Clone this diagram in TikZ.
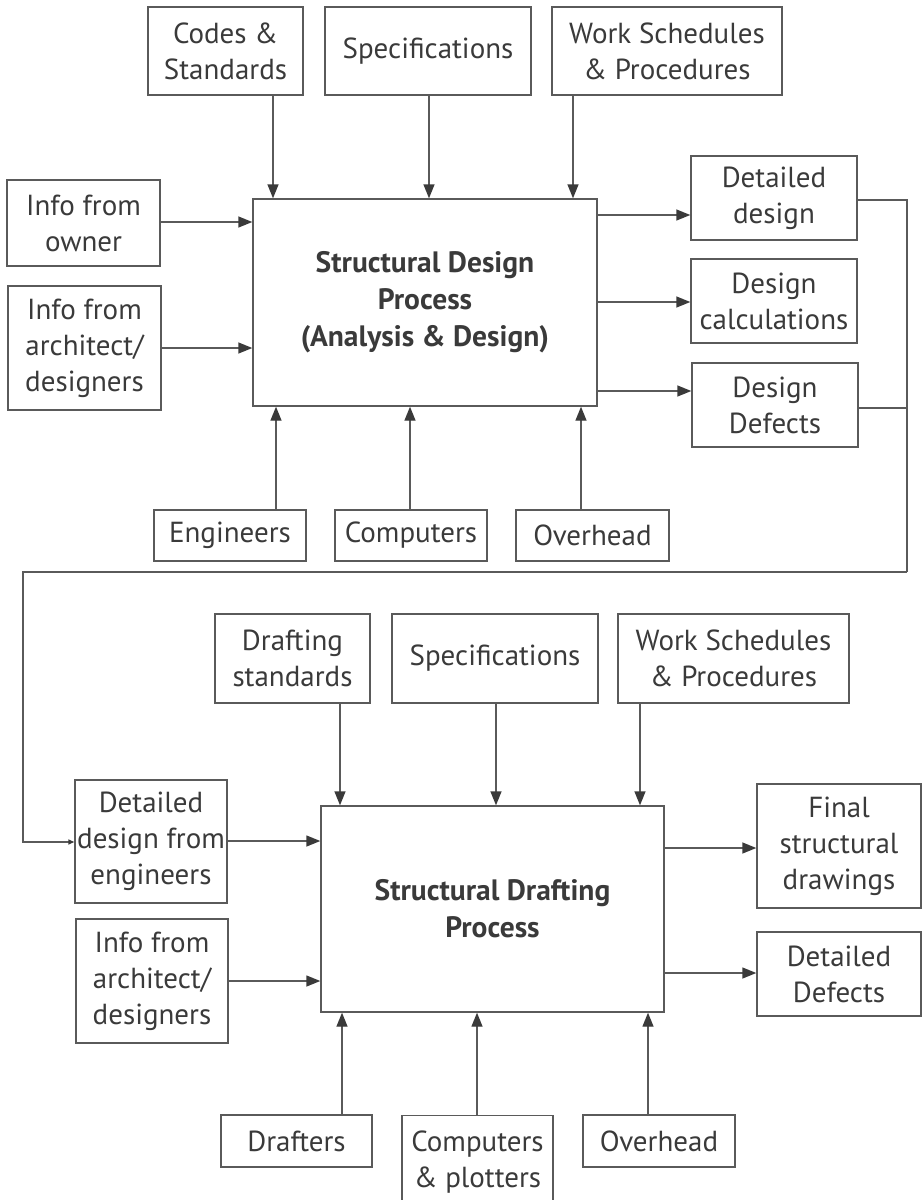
\documentclass[tikz,border=0pt]{standalone}
\usepackage{fontspec}
\setmainfont{PT Sans}
\usetikzlibrary{arrows.meta}
\definecolor{lc}{HTML}{5A5A5A}
\definecolor{tc}{HTML}{3A3A3A}
\newcommand\bx[6]{%
  \node[box, minimum width={#4-#2}, minimum height={#5-#3}] (#1)
    at ({(#2+#4)/2},{(#3+#5)/2}) {#6};}
\begin{document}
\begin{tikzpicture}[x=1pt, y=-1pt,
  box/.style={draw=lc, line width=1.4pt, text=tc, align=center, inner sep=0pt,
    font=\fontsize{29}{36}\selectfont},
  title/.style={box, font=\fontsize{29.5}{37}\selectfont\bfseries},
  conn/.style={draw=lc, line width=1.4pt},
  arr/.style={conn, -{Triangle[length=14pt,width=11pt,color=tc]}},
  arrsmall/.style={conn, -{Triangle[length=6pt,width=5pt,color=tc]}}]
\useasboundingbox (0,0) rectangle (922,1200);

% ---------- design stage ----------
\bx{codes}{148}{7}{303}{95}{Codes \&\\Standards}
\bx{specA}{325}{7}{531}{95}{Specifications}
\bx{workA}{552}{7}{782}{95}{Work Schedules\\\& Procedures}
\bx{owner}{7}{180}{160}{266}{Info from\\owner}
\bx{archA}{8}{286}{161}{410}{Info from\\architect/\\designers}
\node[title, minimum width=344, minimum height=207] (sdp) at (425,302.5)
  {Structural Design\\Process\\(Analysis \& Design)};
\bx{detdes}{691}{156}{857}{240}{Detailed\\design}
\bx{calc}{691}{259}{857}{343}{Design\\calculations}
\bx{defects}{692}{363}{858}{447}{Design\\Defects}
\bx{eng}{154}{510}{306}{561}{Engineers}
\bx{compA}{335}{510}{487}{561}{Computers}
\bx{overA}{516}{510}{669}{561}{Overhead}

\draw[arr] (codes.south -| 273,0) -- (sdp.north -| 273,0);
\draw[arr] (specA.south -| 429,0) -- (sdp.north -| 429,0);
\draw[arr] (workA.south -| 573,0) -- (sdp.north -| 573,0);
\draw[arr] (owner.east |- 0,222) -- (sdp.west |- 0,222);
\draw[arr] (archA.east |- 0,348) -- (sdp.west |- 0,348);
\draw[arr] (sdp.east |- 0,215) -- (detdes.west |- 0,215);
\draw[arr] (sdp.east |- 0,302) -- (calc.west |- 0,302);
\draw[arr] (sdp.east |- 0,391) -- (defects.west |- 0,391);
\draw[arr] (eng.north -| 276,0) -- (sdp.south -| 276,0);
\draw[arr] (compA.north -| 410,0) -- (sdp.south -| 410,0);
\draw[arr] (overA.north -| 581,0) -- (sdp.south -| 581,0);

% ---------- drafting stage ----------
\bx{draftstd}{215}{614}{370}{703}{Drafting\\standards}
\bx{specB}{392}{614}{598}{703}{Specifications}
\bx{workB}{618}{614}{849}{703}{Work Schedules\\\& Procedures}
\bx{fromeng}{75}{780}{227}{903}{Detailed\\design from\\engineers}
\bx{archB}{76}{919}{228}{1043}{Info from\\architect/\\designers}
\node[title, minimum width=343, minimum height=206] (sdf) at (492.5,909)
  {Structural Drafting\\Process};
\bx{final}{757}{784}{921}{908}{Final\\structural\\drawings}
\bx{detdef}{757}{932}{921}{1016}{Detailed\\Defects}
\bx{drafters}{221}{1115}{372}{1167}{Drafters}
\node[box, minimum width=151, minimum height=90, anchor=north] (compB) at (477.5,1115)
  {\rule{0pt}{24pt}Computers\\\& plotters};
\bx{overB}{583}{1115}{735}{1167}{Overhead}

\draw[arr] (draftstd.south -| 340,0) -- (sdf.north -| 340,0);
\draw[arr] (specB.south -| 496,0) -- (sdf.north -| 496,0);
\draw[arr] (workB.south -| 640,0) -- (sdf.north -| 640,0);
\draw[arr] (fromeng.east |- 0,841) -- (sdf.west |- 0,841);
\draw[arr] (archB.east |- 0,981) -- (sdf.west |- 0,981);
\draw[arr] (sdf.east |- 0,848) -- (final.west |- 0,848);
\draw[arr] (sdf.east |- 0,973) -- (detdef.west |- 0,973);
\draw[arr] (drafters.north -| 342,0) -- (sdf.south -| 342,0);
\draw[arr] (compB.north -| 477,0) -- (sdf.south -| 477,0);
\draw[arr] (overB.north -| 648,0) -- (sdf.south -| 648,0);

% ---------- feedback of the detailed design ----------
\coordinate (loopR) at (907,572);
\coordinate (loopL) at (23,842);
\draw[conn] (detdes.east |- 0,200) -| (loopR);
\draw[conn] (defects.east |- 0,408) -- (loopR |- 0,408);
\draw[arrsmall] (loopR) -| (loopL) -- (fromeng.west |- loopL);
\end{tikzpicture}
\end{document}
